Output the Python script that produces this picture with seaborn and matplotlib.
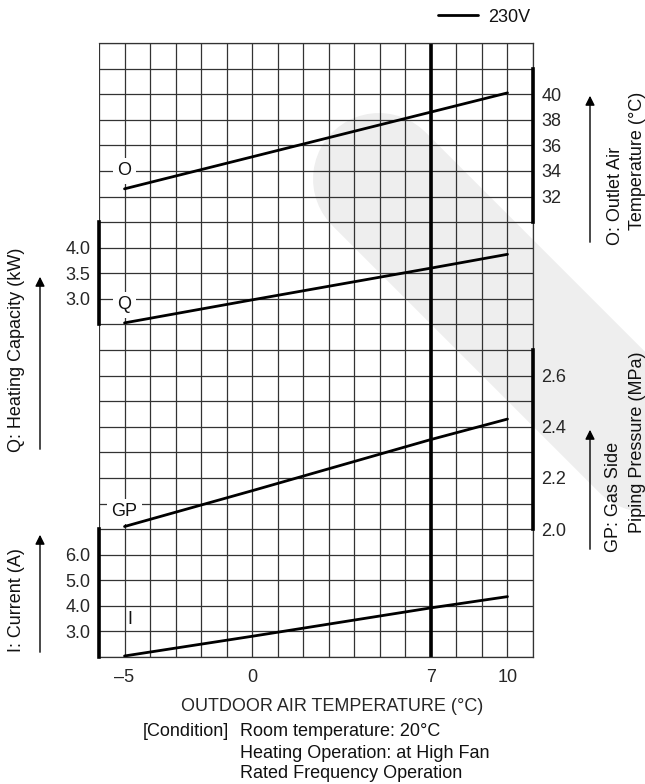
import matplotlib
matplotlib.use('Agg')
import matplotlib.pyplot as plt
import seaborn as sns
from matplotlib.lines import Line2D
from matplotlib.patches import FancyArrowPatch
from matplotlib.transforms import Affine2D

# values (outdoor temp in deg C)
temps = [-5, 0, 7, 10]
outlet_temp = [32.6, 35.1, 38.6, 40.1]      # O (deg C)
capacity = [2.53, 2.98, 3.60, 3.87]         # Q (kW)
gas_pressure = [2.01, 2.15, 2.35, 2.43]     # GP (MPa)
current = [2.04, 2.81, 3.92, 4.36]          # I (A)

x_ticks = [-5, 0, 7, 10]
x_ticklabels = ['–5', '0', '7', '10']
o_ticks = [32, 34, 36, 38, 40]
q_ticks = [3.0, 3.5, 4.0]
gp_ticks = [2.0, 2.2, 2.4, 2.6]
i_ticks = [3.0, 4.0, 5.0, 6.0]

sns.set_theme(style='white')
plt.rcParams['font.family'] = ['Liberation Sans', 'DejaVu Sans']
plt.rcParams['text.color'] = '#111111'

W, H = 645, 784
fig = plt.figure(figsize=(W / 100, H / 100), dpi=100)

ax = fig.add_axes([99 / W, 1 - 657 / H, 434 / W, 614 / H])

GRID = '#333333'
FS = 13

# faint watermark band, in image pixel coords (y down), drawn under the grid
to_px = Affine2D().scale(1, -1).translate(0, H) + Affine2D().scale(fig.dpi / 100)
ax.add_line(Line2D([379, 740], [179, 540], color='#eeeeee', lw=95, solid_capstyle='round',
                   transform=to_px, zorder=0.1, clip_on=False))
ax.set_axisbelow(True)

# base grid: one cell = 1 deg C by one row
ax.set_xlim(-6, 11)
ax.set_ylim(0, 24)
ax.set_xticks(range(-6, 12), minor=True)
ax.set_yticks(range(0, 25), minor=True)
ax.set_xticks(x_ticks)
ax.set_xticklabels(x_ticklabels, fontsize=FS)
ax.set_yticks([])
ax.grid(True, which='both', color=GRID, lw=0.9, zorder=1)
ax.tick_params(axis='both', which='both', length=0)
ax.tick_params(axis='x', pad=9)
for s in ['top', 'right', 'bottom']:
    ax.spines[s].set_color(GRID)
    ax.spines[s].set_linewidth(0.9)
ax.spines['left'].set_visible(False)
ax.axvline(-6, ymin=12.3 / 24, ymax=1, color=GRID, lw=1.3)
ax.axvline(-6, ymin=0, ymax=13 / 24, color=GRID, lw=1.3)
ax.axvline(7, color='black', lw=2.6)
ax.set_xlabel('OUTDOOR AIR TEMPERATURE (°C)', fontsize=FS)
ax.xaxis.set_label_coords((332 - 99) / 434, -41 / 614)


def series_axis(ylim, bounds, ticks, labels, side):
    a = ax.twinx()
    a.set_ylim(*ylim)
    for s in a.spines.values():
        s.set_visible(False)
    a.spines[side].set_visible(True)
    a.spines[side].set_bounds(*bounds)
    a.spines[side].set_linewidth(2.6)
    a.spines[side].set_color('black')
    if side == 'left':
        a.yaxis.tick_left()
    a.set_yticks(ticks)
    a.set_yticklabels(labels, fontsize=FS)
    a.tick_params(axis='y', length=0, pad=6)
    return a


# each scale: value per grid row and where it sits on the 24-row grid
ax_o = series_axis((-4, 44), (30, 42), o_ticks, [str(v) for v in o_ticks], 'right')
ax_gp = series_axis((1.5, 3.9), (2.0, 2.7), gp_ticks, [f'{v:.1f}' for v in gp_ticks], 'right')
ax_q = series_axis((-4, 8), (2.5, 4.5), q_ticks, [f'{v:.1f}' for v in q_ticks], 'left')
ax_i = series_axis((2, 26), (2, 7), i_ticks, [f'{v:.1f}' for v in i_ticks], 'left')

for a, vals, name, lab_y, lab_x, boxed in [
    (ax_o, outlet_temp, 'O', 34.0, -5, True),
    (ax_q, capacity, 'Q', 2.88, -5, True),
    (ax_gp, gas_pressure, 'GP', 2.068, -5, True),
    (ax_i, current, 'I', 3.45, -4.8, False),
]:
    sns.lineplot(x=temps, y=vals, ax=a, color='black', lw=2.0, zorder=3)
    a.set_ylabel('')
    box = dict(facecolor='white', edgecolor='none', pad=3.0) if boxed else None
    a.text(lab_x, lab_y, name, fontsize=FS, ha='center', va='center', bbox=box, zorder=2)

# side titles with arrows
for x0, y0, y1 in [(40, 452, 274), (40, 655, 532), (590, 245, 93), (590, 552, 427)]:
    fig.patches.append(FancyArrowPatch((x0 / W, 1 - y0 / H), (x0 / W, 1 - y1 / H),
                                       transform=fig.transFigure, arrowstyle='-|>',
                                       color='black', lw=1.0, mutation_scale=14))

fig.text(17 / W, 1 - 350 / H, 'Q: Heating Capacity (kW)', rotation=90, ha='center', va='center', fontsize=FS)
fig.text(17 / W, 1 - 600 / H, 'I: Current (A)', rotation=90, ha='center', va='center', fontsize=FS)
fig.text(616 / W, 1 - 245 / H, 'O: Outlet Air', rotation=90, ha='center', va='bottom', fontsize=FS)
fig.text(637 / W, 1 - 230 / H, 'Temperature (°C)', rotation=90, ha='center', va='bottom', fontsize=FS)
fig.text(613 / W, 1 - 552 / H, 'GP: Gas Side', rotation=90, ha='center', va='bottom', fontsize=FS)
fig.text(637 / W, 1 - 533 / H, 'Piping Pressure (MPa)', rotation=90, ha='center', va='bottom', fontsize=FS)

fig.text(143 / W, 1 - 731 / H, '[Condition]', ha='left', va='center', fontsize=FS)
fig.text(240 / W, 1 - 731 / H, 'Room temperature: 20°C', ha='left', va='center', fontsize=FS)
fig.text(240 / W, 1 - 753 / H, 'Heating Operation: at High Fan', ha='left', va='center', fontsize=FS)
fig.text(240 / W, 1 - 773 / H, 'Rated Frequency Operation', ha='left', va='center', fontsize=FS)

fig.legend(handles=[Line2D([], [], color='black', lw=2.0)], labels=['230V'],
           loc='center right', bbox_to_anchor=(547 / W, 1 - 17 / H), frameon=False,
           fontsize=FS, handlelength=2.2, handletextpad=0.6)

fig.savefig('out.png', dpi=100)
